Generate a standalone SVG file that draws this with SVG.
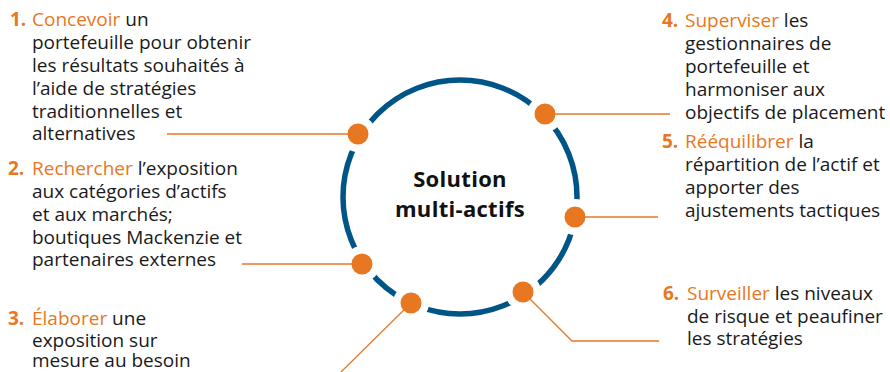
<svg xmlns="http://www.w3.org/2000/svg" width="890" height="372" viewBox="0 0 890 372">
<style>
.t{font-family:"Open Sans","Noto Sans",sans-serif;font-size:19px;fill:#1a1a1a}
.n{font-weight:700;fill:#e87722}
.h{fill:#e87722}
.c{stroke:#e87722;stroke-width:1.3;fill:none}
.d{fill:#e87722}
.m{fill:#fff}
.title{font-family:"Open Sans","Noto Sans",sans-serif;font-size:22px;font-weight:700;fill:#111;text-anchor:middle;letter-spacing:0.3px}
</style>
<rect width="890" height="372" fill="#fff"/>
<g id="ring">
<circle cx="460" cy="197" r="117" fill="none" stroke="#005587" stroke-width="5.5"/>
<circle class="m" cx="358" cy="134" r="18"/>
<circle class="m" cx="362" cy="264" r="18"/>
<circle class="m" cx="411" cy="303" r="18"/>
<circle class="m" cx="545" cy="114" r="18"/>
<circle class="m" cx="575" cy="217" r="18"/>
<circle class="m" cx="523" cy="292" r="18"/>
</g>
<g id="connectors">
<line class="c" x1="167" y1="134" x2="358" y2="134"/>
<line class="c" x1="242" y1="264" x2="362" y2="264"/>
<line class="c" x1="340" y1="373" x2="411" y2="303"/>
<line class="c" x1="545" y1="114" x2="670" y2="114"/>
<line class="c" x1="575" y1="217" x2="658" y2="217"/>
<polyline class="c" points="523,292 572,341 659,341"/>
</g>
<g id="center">
<text class="title" x="460" y="187">Solution</text>
<text class="title" x="460" y="217">multi-actifs</text>
</g>
<g id="node1">
<circle class="d" cx="358" cy="134" r="10.5"/>
<text class="t"><tspan class="n" x="10" y="26">1.</tspan><tspan class="h" x="32" y="26">Concevoir</tspan> un<tspan x="32" y="49">portefeuille pour obtenir</tspan><tspan x="32" y="72">les résultats souhaités à</tspan><tspan x="32" y="95">l’aide de stratégies</tspan><tspan x="32" y="118">traditionnelles et</tspan><tspan x="32" y="140">alternatives</tspan></text>
</g>
<g id="node2">
<circle class="d" cx="362" cy="264" r="10.5"/>
<text class="t"><tspan class="n" x="8" y="175">2.</tspan><tspan class="h" x="32" y="175">Rechercher</tspan> l’exposition<tspan x="32" y="198">aux catégories d’actifs</tspan><tspan x="32" y="221">et aux marchés;</tspan><tspan x="32" y="244">boutiques Mackenzie et</tspan><tspan x="32" y="266">partenaires externes</tspan></text>
</g>
<g id="node3">
<circle class="d" cx="411" cy="303" r="10.5"/>
<text class="t"><tspan class="n" x="8" y="325">3.</tspan><tspan class="h" x="32" y="325">Élaborer</tspan> une<tspan x="32" y="347">exposition sur</tspan><tspan x="32" y="367">mesure au besoin</tspan></text>
</g>
<g id="node4">
<circle class="d" cx="545" cy="114" r="10.5"/>
<text class="t"><tspan class="n" x="662" y="27">4.</tspan><tspan class="h" x="685" y="27">Superviser</tspan> les<tspan x="685" y="50">gestionnaires de</tspan><tspan x="685" y="73">portefeuille et</tspan><tspan x="685" y="96">harmoniser aux</tspan><tspan x="685" y="119">objectifs de placement</tspan></text>
</g>
<g id="node5">
<circle class="d" cx="575" cy="217" r="10.5"/>
<text class="t"><tspan class="n" x="662" y="148">5.</tspan><tspan class="h" x="685" y="148">Rééquilibrer</tspan> la<tspan x="685" y="171">répartition de l’actif et</tspan><tspan x="685" y="194">apporter des</tspan><tspan x="685" y="217">ajustements tactiques</tspan></text>
</g>
<g id="node6">
<circle class="d" cx="523" cy="292" r="10.5"/>
<text class="t"><tspan class="n" x="663" y="300">6.</tspan><tspan class="h" x="687" y="300">Surveiller</tspan> les niveaux<tspan x="687" y="323">de risque et peaufiner</tspan><tspan x="687" y="345">les stratégies</tspan></text>
</g>
</svg>
